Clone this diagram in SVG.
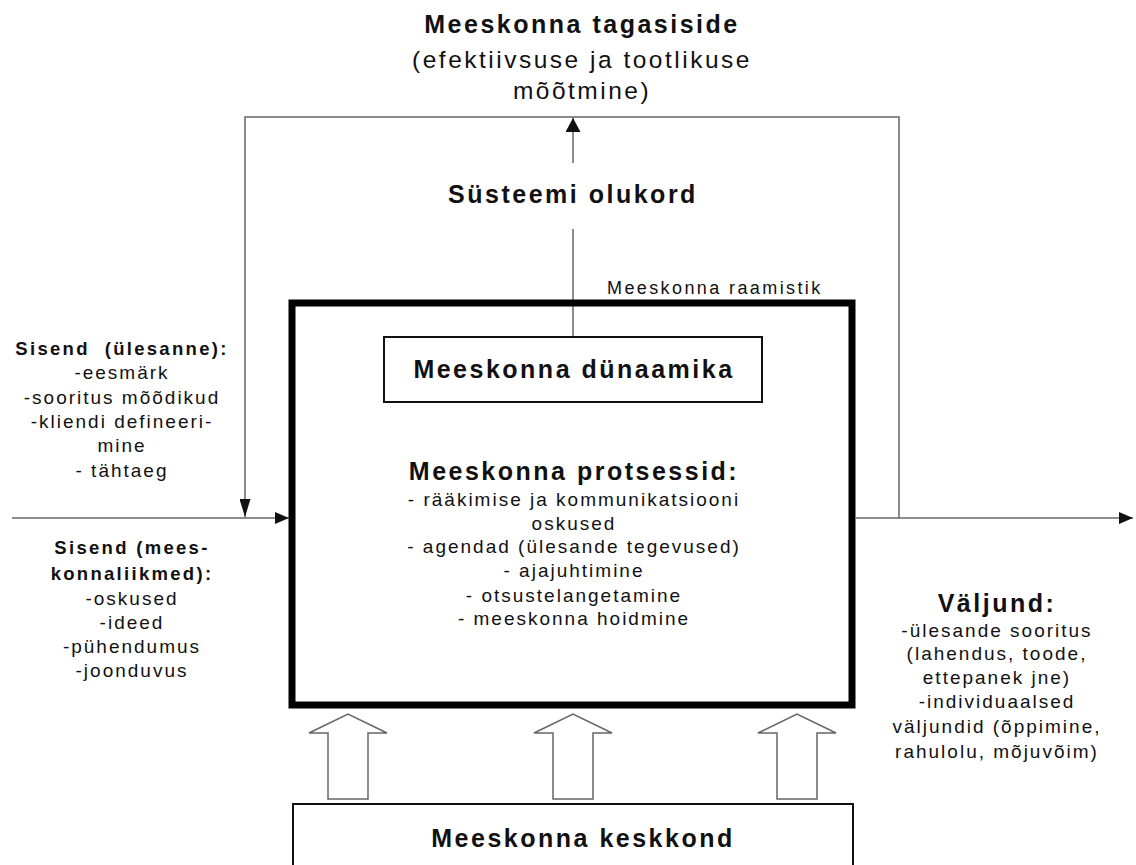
<svg xmlns="http://www.w3.org/2000/svg" width="1136" height="865" viewBox="0 0 1136 865">
<defs>
<style>
text{font-family:"Liberation Sans",Arial,sans-serif;fill:#111;text-anchor:middle;}
.b{font-size:19px;letter-spacing:2px;}
.bb{font-size:18.5px;font-weight:bold;letter-spacing:2.3px;}
.h{font-size:25px;font-weight:bold;letter-spacing:2.5px;}
.hn{font-size:24.5px;letter-spacing:2.5px;}
.thin{fill:none;stroke:#666;stroke-width:1.5;}
.box{fill:#fff;stroke:#111;stroke-width:2;}
.hollow{fill:#fff;stroke:#666;stroke-width:1.5;stroke-linejoin:miter;}
</style>
<marker id="arr" viewBox="0 0 14 12" refX="14" refY="6" markerWidth="14" markerHeight="12" markerUnits="userSpaceOnUse" orient="auto">
<path d="M0,0 L14,6 L0,12 z" fill="#111"/>
</marker>
<marker id="arrN" viewBox="0 0 18 11" refX="18" refY="5.5" markerWidth="18" markerHeight="11" markerUnits="userSpaceOnUse" orient="auto">
<path d="M0,0 L18,5.5 L0,11 z" fill="#111"/>
</marker>
<marker id="arrU" viewBox="0 0 14 15" refX="14" refY="7.5" markerWidth="14" markerHeight="15" markerUnits="userSpaceOnUse" orient="auto">
<path d="M0,0 L14,7.5 L0,15 z" fill="#111"/>
</marker>
</defs>
<rect width="1136" height="865" fill="#fff"/>

<g id="connectors">
<path class="thin" d="M899,518 V117 H245 V517" marker-end="url(#arrN)"/>
<path class="thin" d="M12,518 H289" marker-end="url(#arr)"/>
<path class="thin" d="M856,518 H1133" marker-end="url(#arr)"/>
<path class="thin" d="M573,163 V118" marker-end="url(#arrU)"/>
<path class="thin" d="M573,229 V337"/>
<path class="hollow" d="M328,799 V733 H309 L348,714 L387,733 H368 V799 Z"/>
<path class="hollow" d="M553,799 V733 H534 L573,714 L612,733 H593 V799 Z"/>
<path class="hollow" d="M777,799 V733 H758 L797,714 L836,733 H817 V799 Z"/>
</g>

<g id="feedback-label">
<text class="h" x="582" y="33">Meeskonna tagasiside</text>
<text class="hn" x="582" y="68">(efektiivsuse ja tootlikuse</text>
<text class="hn" x="582" y="99">mõõtmine)</text>
</g>

<g id="system-state">
<text class="h" x="573" y="203">Süsteemi olukord</text>
</g>

<g id="team-frame">
<rect x="292" y="303" width="560" height="402" fill="none" stroke="#000" stroke-width="7"/>
<text class="b" x="607" y="294" style="text-anchor:start;font-size:18px;letter-spacing:2.4px">Meeskonna raamistik</text>
</g>

<g id="team-dynamics">
<rect class="box" x="384" y="337" width="378" height="65"/>
<text class="h" x="574" y="378">Meeskonna dünaamika</text>
</g>

<g id="team-processes">
<text class="h" x="574" y="480">Meeskonna protsessid:</text>
<text class="b" x="574" y="506">- rääkimise ja kommunikatsiooni</text>
<text class="b" x="574" y="530">oskused</text>
<text class="b" x="574" y="553">- agendad (ülesande tegevused)</text>
<text class="b" x="574" y="577">- ajajuhtimine</text>
<text class="b" x="574" y="602">- otsustelangetamine</text>
<text class="b" x="574" y="625">- meeskonna hoidmine</text>
</g>

<g id="input-task">
<text class="bb" x="122" y="355" xml:space="preserve" style="white-space:pre">Sisend  (ülesanne):</text>
<text class="b" x="122" y="379">-eesmärk</text>
<text class="b" x="122" y="404">-sooritus mõõdikud</text>
<text class="b" x="122" y="428">-kliendi defineeri-</text>
<text class="b" x="122" y="452">mine</text>
<text class="b" x="122" y="477">- tähtaeg</text>
</g>

<g id="input-members">
<text class="bb" x="132" y="554">Sisend (mees-</text>
<text class="bb" x="132" y="580">konnaliikmed):</text>
<text class="b" x="132" y="605">-oskused</text>
<text class="b" x="132" y="629">-ideed</text>
<text class="b" x="132" y="653">-pühendumus</text>
<text class="b" x="132" y="677">-joonduvus</text>
</g>

<g id="output">
<text class="h" x="997" y="612">Väljund:</text>
<text class="b" x="997" y="637">-ülesande sooritus</text>
<text class="b" x="997" y="660">(lahendus, toode,</text>
<text class="b" x="997" y="684">ettepanek jne)</text>
<text class="b" x="997" y="708">-individuaalsed</text>
<text class="b" x="997" y="733">väljundid (õppimine,</text>
<text class="b" x="997" y="758">rahulolu, mõjuvõim)</text>
</g>

<g id="team-environment">
<rect class="box" x="293" y="804" width="560" height="80"/>
<text class="h" x="583" y="847">Meeskonna keskkond</text>
</g>
</svg>
